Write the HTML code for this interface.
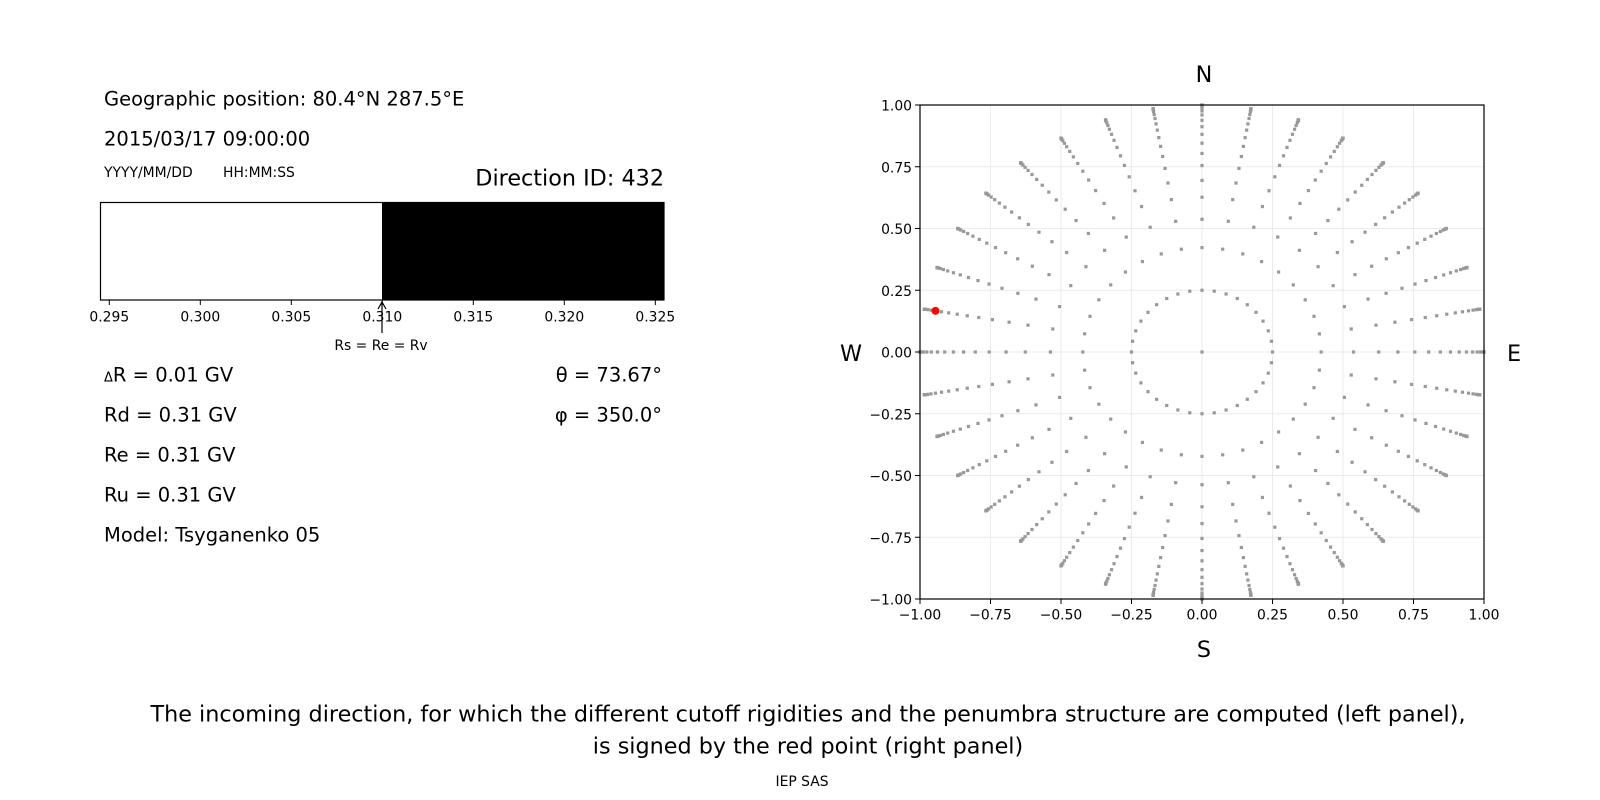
<!DOCTYPE html>
<html><head><meta charset="utf-8"><style>
body{margin:0;background:#fff}
svg{display:block;font-family:"DejaVu Sans","Liberation Sans",sans-serif}
</style></head><body>
<svg id="s" width="1600" height="800" xmlns="http://www.w3.org/2000/svg">
<rect width="1600" height="800" fill="#fff"/>
<g font-size="19.5" fill="#000">
<text x="104" y="105.5">Geographic position: 80.4°N 287.5°E</text>
<text x="104" y="145.5">2015/03/17 09:00:00</text>
<text x="104" y="177" font-size="13.9">YYYY/MM/DD</text>
<text x="223" y="177" font-size="13.9">HH:MM:SS</text>
<text x="664" y="185.5" font-size="22.3" text-anchor="end">Direction ID: 432</text>
<text x="104" y="381.5"><tspan font-size="13">Δ</tspan>R = 0.01 GV</text>
<text x="104" y="421.5">Rd = 0.31 GV</text>
<text x="104" y="461.5">Re = 0.31 GV</text>
<text x="104" y="501.5">Ru = 0.31 GV</text>
<text x="104" y="541.5">Model: Tsyganenko 05</text>
<text x="662" y="381.5" text-anchor="end">θ = 73.67°</text>
<text x="662" y="421.5" text-anchor="end">φ = 350.0°</text>
</g>
<rect x="382" y="202.5" width="282" height="97.5" fill="#000"/>
<rect x="100.5" y="202.5" width="563.5" height="97.5" fill="none" stroke="#000" stroke-width="1.2"/>
<g id="lt" font-size="13.9" text-anchor="middle"></g>
<line x1="382" y1="302" x2="382" y2="333" stroke="#000" stroke-width="1.2"/>
<path d="M378 309 L382 302 L386 309" fill="none" stroke="#000" stroke-width="1.2"/>
<text x="381" y="350" font-size="13.9" text-anchor="middle">Rs = Re = Rv</text>
<g id="grid"></g>
<g id="dots"></g>
<rect x="920" y="105" width="564" height="494" fill="none" stroke="#000" stroke-width="1.2"/>
<g id="rt" font-size="13.9"></g>
<g font-size="22.3" text-anchor="middle">
<text x="1204" y="82">N</text>
<text x="1204" y="657">S</text>
<text x="851" y="361">W</text>
<text x="1514" y="361">E</text>
<text x="808" y="721.5">The incoming direction, for which the different cutoff rigidities and the penumbra structure are computed (left panel),</text>
<text x="808" y="753.5">is signed by the red point (right panel)</text>
</g>
<text x="802" y="786" font-size="13.9" text-anchor="middle">IEP SAS</text>
</svg>
<script>
const NS="http://www.w3.org/2000/svg";
function el(p,t,a,txt){const e=document.createElementNS(NS,t);for(const k in a)e.setAttribute(k,a[k]);if(txt!==undefined)e.textContent=txt;document.getElementById(p).appendChild(e);return e;}
[0.295,0.300,0.305,0.310,0.315,0.320,0.325].forEach((v,i)=>{const x=109.3+i*91;
el("lt","line",{x1:x,y1:300,x2:x,y2:305,stroke:"#000","stroke-width":1});
el("lt","text",{x:x,y:321.5},v.toFixed(3));});
const cx=1202,cy=352,sx=282,sy=247;
for(let i=0;i<9;i++){const v=-1+i*0.25;const x=cx+v*sx,y=cy-v*sy;
el("grid","line",{x1:x,y1:105,x2:x,y2:599,stroke:"#ebebeb","stroke-width":1});
el("grid","line",{x1:920,y1:y,x2:1484,y2:y,stroke:"#ebebeb","stroke-width":1});
el("rt","line",{x1:x,y1:599,x2:x,y2:604,stroke:"#000"});
el("rt","line",{x1:915,y1:y,x2:920,y2:y,stroke:"#000"});
const lab=(v<0?"\u2212":"")+Math.abs(v).toFixed(2);
el("rt","text",{x:x,y:619.5,"text-anchor":"middle"},lab);
el("rt","text",{x:912,y:y+5.5,"text-anchor":"end"},lab);}
function dot(x,y){el("dots","rect",{x:cx+x*sx-1.6,y:cy-y*sy-1.6,width:3.2,height:3.2,fill:"#999"});}
dot(0,0);
for(let a=0;a<360;a+=10){const r=a*Math.PI/180;dot(0.25*Math.cos(r),0.25*Math.sin(r));}
const zen=[25,32.5,38.8,44,49,53.5,57.7,61.8,65.8,69.7,73.67,77.4,81,84,86,87.5,88.5,89.3,90];
for(let a=0;a<360;a+=10){const t=a*Math.PI/180;zen.forEach(z=>{const r=Math.sin(z*Math.PI/180);dot(r*Math.cos(t),r*Math.sin(t));});}
const rr=Math.sin(73.67*Math.PI/180),t=170*Math.PI/180;
el("dots","circle",{cx:cx+rr*Math.cos(t)*sx,cy:cy-rr*Math.sin(t)*sy,r:4,fill:"#ff0000"});
</script>
</body></html>
